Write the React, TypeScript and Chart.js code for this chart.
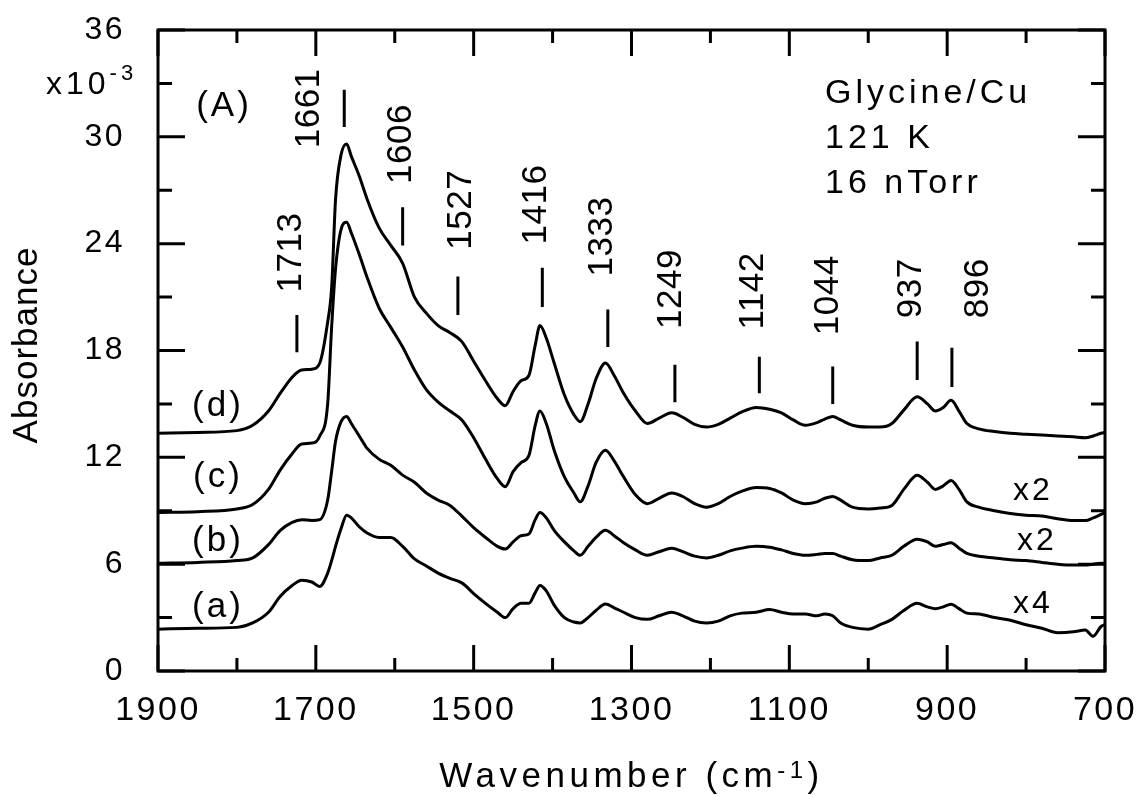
import React, { useEffect, useRef } from 'react';
import { Chart, registerables } from 'chart.js';

Chart.register(...registerables);

const FONT = "'Liberation Sans', Arial, Helvetica, sans-serif";

// Wavenumber grid (cm^-1), shared by all spectra
const wavenumbers = [
  1900, 1850, 1800, 1780, 1760, 1745, 1730, 1718, 1705, 1695,
  1685, 1680, 1675, 1668, 1661, 1655, 1645, 1635, 1620, 1605,
  1590, 1575, 1560, 1545, 1530, 1515, 1500, 1485, 1470, 1460,
  1450, 1440, 1430, 1422, 1416, 1408, 1398, 1385, 1373, 1365,
  1355, 1345, 1333, 1322, 1310, 1295, 1280, 1265, 1249, 1235,
  1220, 1205, 1190, 1175, 1160, 1142, 1125, 1110, 1095, 1080,
  1065, 1055, 1045, 1035, 1020, 1000, 985, 970, 955, 938,
  925, 915, 905, 895, 885, 875, 860, 840, 820, 800,
  780, 760, 740, 725, 715, 705, 700,
];

// Absorbance (x10^-3), with the plot offsets
const curveD = [
  13.35, 13.4, 13.5, 13.8, 14.6, 15.6, 16.5, 16.9, 16.95, 17.3,
  19.6, 21.5, 26.5, 29.0, 29.6, 28.9, 27.8, 26.5, 24.9, 23.9,
  22.9, 21.0, 20.1, 19.4, 19.0, 18.5, 17.4, 16.3, 15.3, 14.9,
  15.7, 16.3, 16.6, 18.3, 19.4, 18.7, 17.3, 15.5, 14.4, 14.0,
  15.0, 16.4, 17.3, 16.6, 15.6, 14.6, 13.9, 14.2, 14.5, 14.25,
  13.85, 13.7, 13.85, 14.2, 14.55, 14.8, 14.7, 14.5, 14.1, 13.8,
  13.95, 14.15, 14.3, 14.1, 13.8, 13.7, 13.7, 13.9, 14.65, 15.4,
  15.0, 14.6, 14.8, 15.2, 14.6, 13.9, 13.6, 13.45, 13.35, 13.3,
  13.25, 13.2, 13.15, 13.1, 13.2, 13.35, 13.4,
];

const curveC = [
  8.9, 8.95, 9.1, 9.35, 10.2, 11.3, 12.2, 12.75, 12.8, 13.2,
  15.0, 19.3, 22.6, 24.8, 25.2, 24.6, 23.4, 22.1, 20.4, 19.3,
  18.2, 16.9, 15.8, 15.1, 14.6, 14.1, 13.1, 11.9, 10.8, 10.35,
  11.2, 11.7, 12.1, 13.8, 14.6, 13.9, 12.4, 10.9, 10.0, 9.5,
  10.4, 11.7, 12.4, 11.8, 10.9, 9.9, 9.4, 9.7, 10.0, 9.8,
  9.4, 9.2, 9.4, 9.8, 10.1, 10.3, 10.25, 10.0, 9.6, 9.4,
  9.5, 9.7, 9.8, 9.6, 9.2, 9.1, 9.15, 9.3, 10.2, 11.0,
  10.6, 10.2, 10.4, 10.7, 10.2, 9.5, 9.2, 9.0, 8.85, 8.75,
  8.7, 8.55, 8.45, 8.45, 8.6, 8.8, 8.9,
];

const curveB = [
  6.05, 6.1, 6.2, 6.35, 7.1, 7.9, 8.35, 8.5, 8.45, 8.5,
  9.6, 11.2, 12.9, 14.0, 14.3, 13.9, 13.2, 12.5, 11.9, 11.55,
  11.0, 10.6, 10.0, 9.6, 9.3, 8.7, 8.05, 7.5, 7.0, 6.85,
  7.25, 7.6, 7.7, 8.5, 8.9, 8.6, 7.9, 7.25, 6.75, 6.5,
  7.0, 7.5, 7.9, 7.6, 7.2, 6.8, 6.5, 6.7, 6.9, 6.7,
  6.45, 6.35, 6.5, 6.75, 6.9, 7.0, 6.95, 6.8, 6.6, 6.5,
  6.55, 6.6, 6.6, 6.45, 6.25, 6.2, 6.35, 6.5, 7.0, 7.4,
  7.25, 7.0, 7.1, 7.2, 6.9, 6.6, 6.45, 6.35, 6.25, 6.2,
  6.1, 6.0, 5.95, 5.95, 6.0, 6.05, 6.05,
];

const curveA = [
  2.35, 2.4, 2.45, 2.7, 3.3, 4.2, 4.8, 5.1, 5.0, 4.75,
  5.5, 6.2, 7.0, 8.0, 8.75, 8.6, 8.1, 7.75, 7.5, 7.5,
  7.0, 6.3, 5.9, 5.5, 5.2, 4.95, 4.35, 3.8, 3.3, 3.0,
  3.5, 3.8, 3.8, 4.4, 4.8, 4.5, 3.7, 3.0, 2.75, 2.7,
  3.0, 3.4, 3.76, 3.55, 3.3, 3.0, 2.9, 3.1, 3.3, 3.1,
  2.8, 2.7, 2.8, 3.1, 3.25, 3.3, 3.45, 3.3, 3.2, 3.2,
  3.1, 3.2, 3.1, 2.7, 2.45, 2.35, 2.6, 2.9, 3.4, 3.8,
  3.6, 3.5, 3.6, 3.75, 3.5, 3.25, 3.2, 3.0, 2.85, 2.6,
  2.4, 2.15, 2.2, 2.3, 1.95, 2.5, 2.6,
];

const curveLabels = ['(d)', '(c)', '(b)', '(a)'];
const scaleFactors = ['', 'x2', 'x2', 'x4'];

// Peak assignments
const peakLabels = ['1713', '1661', '1606', '1527', '1416', '1333', '1249', '1142', '1044', '937', '896'];
const markerWn = [1724, 1664, 1590, 1520, 1413, 1330, 1245, 1138, 1045, 938, 894];
const markerLow = [17.9, 30.55, 23.9, 20.0, 20.45, 18.2, 15.1, 15.6, 15.0, 16.35, 15.95];
const markerHigh = [20.0, 32.65, 26.05, 22.15, 22.65, 20.3, 17.2, 17.65, 17.1, 18.5, 18.15];
const labelWn = [1731, 1708, 1592, 1515, 1420, 1337, 1249, 1145, 1050, 945, 860];
const labelY = [23.5, 31.6, 29.6, 25.9, 26.2, 24.4, 21.45, 21.35, 21.1, 21.5, 21.5];

const infoLines = ['Glycine/Cu', '121 K', '16 nTorr'];

const X_MIN = 700;
const X_MAX = 1900;
const Y_MIN = 0;
const Y_MAX = 36;

type Part = { text: string; size: number; dy: number };

function setSpacing(ctx: any, px: number) {
  ctx.letterSpacing = px + 'px';
}

function partsWidth(ctx: CanvasRenderingContext2D, parts: Part[]) {
  let w = 0;
  for (const p of parts) {
    ctx.font = `${p.size}px ${FONT}`;
    w += ctx.measureText(p.text).width;
  }
  return w;
}

function drawParts(ctx: CanvasRenderingContext2D, parts: Part[], x: number, y: number) {
  let cx = x;
  ctx.textAlign = 'left';
  ctx.textBaseline = 'alphabetic';
  for (const p of parts) {
    ctx.font = `${p.size}px ${FONT}`;
    ctx.fillText(p.text, cx, y + p.dy);
    cx += ctx.measureText(p.text).width;
  }
}

const decorPlugin = {
  id: 'decor',
  beforeDraw(chart: any) {
    setSpacing(chart.ctx, 2.5);
  },
  afterDraw(chart: any) {
    const { ctx, chartArea: ca, scales } = chart;
    const xs = scales.x;
    const ys = scales.y;
    ctx.save();
    ctx.strokeStyle = '#000';
    ctx.fillStyle = '#000';
    ctx.lineCap = 'butt';

    // frame
    ctx.lineWidth = 3;
    ctx.strokeRect(ca.left, ca.top, ca.right - ca.left, ca.bottom - ca.top);

    // inward ticks on all four sides
    ctx.beginPath();
    for (const t of xs.ticks) {
      const p = xs.getPixelForValue(t.value);
      const len = (t.value - X_MIN) % 200 === 0 ? 26 : 13;
      ctx.moveTo(p, ca.bottom);
      ctx.lineTo(p, ca.bottom - len);
      ctx.moveTo(p, ca.top);
      ctx.lineTo(p, ca.top + len);
    }
    for (const t of ys.ticks) {
      const p = ys.getPixelForValue(t.value);
      const len = t.value % 6 === 0 ? 27 : 14;
      ctx.moveTo(ca.left, p);
      ctx.lineTo(ca.left + len, p);
      ctx.moveTo(ca.right, p);
      ctx.lineTo(ca.right - len, p);
    }
    ctx.stroke();

    // peak markers
    ctx.lineWidth = 3;
    ctx.beginPath();
    markerWn.forEach((w, i) => {
      const p = xs.getPixelForValue(w);
      ctx.moveTo(p, ys.getPixelForValue(markerLow[i]));
      ctx.lineTo(p, ys.getPixelForValue(markerHigh[i]));
    });
    ctx.stroke();

    // peak labels (rotated)
    setSpacing(ctx, 0.5);
    ctx.font = `35px ${FONT}`;
    ctx.textAlign = 'center';
    ctx.textBaseline = 'middle';
    peakLabels.forEach((s, i) => {
      ctx.save();
      ctx.translate(xs.getPixelForValue(labelWn[i]), ys.getPixelForValue(labelY[i]));
      ctx.rotate(-Math.PI / 2);
      ctx.fillText(s, 0, 0);
      ctx.restore();
    });

    // (A)
    setSpacing(ctx, 3);
    ctx.font = `35px ${FONT}`;
    ctx.textAlign = 'center';
    ctx.textBaseline = 'middle';
    ctx.fillText('(A)', ca.left + 66, ca.top + 76);

    // curve labels
    const labelCenters = [406, 477, 541, 607];
    curveLabels.forEach((s, i) => {
      ctx.fillText(s, ca.left + 60, labelCenters[i]);
    });

    // scale factors
    ctx.font = `32px ${FONT}`;
    ctx.textAlign = 'left';
    ctx.textBaseline = 'alphabetic';
    const factorPos = [[0, 0], [1013, 500], [1017, 550], [1013, 613]];
    scaleFactors.forEach((s, i) => {
      if (s) ctx.fillText(s, factorPos[i][0], factorPos[i][1]);
    });

    // info block
    setSpacing(ctx, 4);
    ctx.font = `34px ${FONT}`;
    infoLines.forEach((s, i) => {
      ctx.fillText(s, 825, 103 + i * 45);
    });

    // x10^-3 multiplier
    setSpacing(ctx, 4);
    drawParts(ctx, [
      { text: 'x10', size: 32, dy: 0 },
      { text: '-3', size: 22, dy: -14 },
    ], 46, 94);

    // x-axis title
    setSpacing(ctx, 4.5);
    const xt: Part[] = [
      { text: 'Wavenumber (cm', size: 35, dy: 0 },
      { text: '-1', size: 24, dy: -9 },
      { text: ')', size: 35, dy: 0 },
    ];
    const w = partsWidth(ctx, xt);
    drawParts(ctx, xt, (ca.left + ca.right) / 2 - w / 2, 787);

    // y-axis title
    setSpacing(ctx, 1);
    ctx.font = `35px ${FONT}`;
    ctx.save();
    ctx.translate(27, 345);
    ctx.rotate(-Math.PI / 2);
    ctx.textAlign = 'center';
    ctx.textBaseline = 'middle';
    ctx.fillText('Absorbance', 0, 0);
    ctx.restore();

    ctx.restore();
  },
};

export default function App() {
  const ref = useRef<HTMLCanvasElement | null>(null);

  useEffect(() => {
    if (!ref.current) return;
    const series = [curveD, curveC, curveB, curveA];
    const chart = new Chart(ref.current, {
      type: 'line',
      data: {
        datasets: series.map((vals, k) => ({
          label: curveLabels[k],
          data: wavenumbers.map((w, i) => ({ x: w, y: vals[i] })),
          borderColor: '#000',
          borderWidth: 3,
          pointRadius: 0,
          fill: false,
          cubicInterpolationMode: 'monotone' as const,
        })),
      },
      options: {
        responsive: false,
        animation: false,
        devicePixelRatio: 1,
        layout: { padding: { top: 30, right: 33, left: 0, bottom: 0 } },
        plugins: {
          legend: { display: false },
          tooltip: { enabled: false },
          title: { display: false },
        },
        scales: {
          x: {
            type: 'linear',
            min: X_MIN,
            max: X_MAX,
            reverse: true,
            grid: { display: false, drawTicks: false, tickLength: 0 },
            border: { display: false },
            ticks: {
              stepSize: 100,
              autoSkip: false,
              maxRotation: 0,
              padding: 19,
              color: '#000',
              font: { family: FONT, size: 34, lineHeight: 1.2 },
              callback: (v: any) => ((Number(v) - X_MIN) % 200 === 0 ? String(v) : ''),
            },
            afterFit: (s: any) => {
              s.height = 126;
              s.paddingLeft = 0;
              s.paddingRight = 0;
            },
          },
          y: {
            type: 'linear',
            min: Y_MIN,
            max: Y_MAX,
            grid: { display: false, drawTicks: false, tickLength: 0 },
            border: { display: false },
            ticks: {
              stepSize: 3,
              autoSkip: false,
              padding: 33,
              color: '#000',
              font: { family: FONT, size: 32, lineHeight: 1.2 },
              callback: (v: any) => (Number(v) % 6 === 0 ? String(v) : ''),
            },
            afterFit: (s: any) => {
              s.width = 158;
              s.paddingTop = 0;
              s.paddingBottom = 0;
            },
          },
        },
      },
      plugins: [decorPlugin],
    });
    return () => chart.destroy();
  }, []);

  return (
    <canvas
      ref={ref}
      width={1138}
      height={797}
      style={{ position: 'fixed', left: 0, top: 0, width: '1138px', height: '797px', background: '#fff' }}
    />
  );
}
